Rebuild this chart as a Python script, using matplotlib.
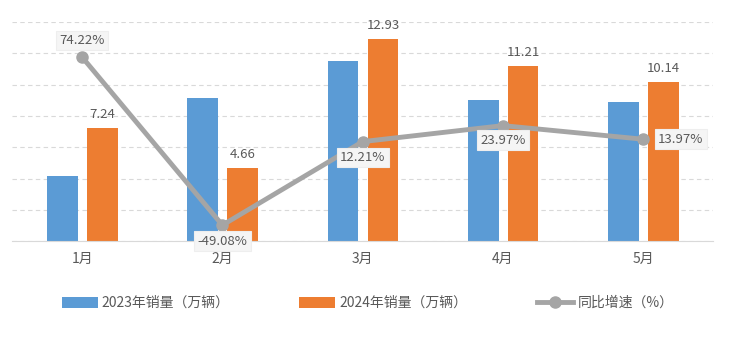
import matplotlib.pyplot as plt
import numpy as np

plt.rcParams['font.family'] = ['Noto Sans CJK SC', 'DejaVu Sans']

months = ['1月', '2月', '3月', '4月', '5月']
sales_2023 = [4.16, 9.15, 11.52, 9.04, 8.90]
sales_2024 = [7.24, 4.66, 12.93, 11.21, 10.14]
growth = [74.22, -49.08, 12.21, 23.97, 13.97]

blue = '#5b9bd5'
orange = '#ed7d31'
gray = '#a5a5a5'
txt = '#595959'

fig = plt.figure(figsize=(7.5, 3.52), dpi=100)
ax = fig.add_axes([0.016, 0.315, 0.935, 0.6225])
x = np.arange(len(months))
w = 0.218
ax.bar(x - 0.14, sales_2023, w, color=blue, label='2023年销量（万辆）', zorder=2)
b2 = ax.bar(x + 0.145, sales_2024, w, color=orange, label='2024年销量（万辆）', zorder=2)
for rect, v in zip(b2, sales_2024):
    ax.annotate(f'{v:.2f}', (rect.get_x() + rect.get_width() / 2, v),
                xytext=(0, 5), textcoords='offset points', ha='center', va='bottom',
                fontsize=9.5, color=txt)

ax.set_xlim(-0.5, 4.5)
ax.set_ylim(0, 14)
ax.set_yticks(np.arange(0, 15, 2))
ax.yaxis.grid(True, linestyle=(0, (4, 3)), color='#d9d9d9', linewidth=0.8, zorder=0)
ax.set_xticks(x)
ax.set_xticklabels(months)
for s in ['top', 'right', 'left']:
    ax.spines[s].set_visible(False)
ax.spines['bottom'].set_color('#d9d9d9')

ax2 = ax.twinx()
ax2.set_ylim(-60.8, 100)
ax2.plot(x, growth, color=gray, linewidth=3.5, marker='o', markersize=8,
         label='同比增速（%）', zorder=3)
ax2.axis('off')

ax.tick_params(axis='y', left=False, right=False, labelleft=False)
ax.tick_params(axis='x', length=0, labelsize=10, labelcolor=txt, pad=7.5)

offsets = [(0, 12), (0, -11.5), (0, -11.5), (0, -10.5), (27, 0)]
for xi, g, off in zip(x, growth, offsets):
    ax2.annotate(f'{g:.2f}%', (xi, g), xytext=off, textcoords='offset points',
                 ha='center', va='center', fontsize=9.5, color=txt, zorder=5,
                 bbox=dict(boxstyle='square,pad=0.25', fc='#f5f5f5', ec='#eeeeee', lw=0.8))

h1, l1 = ax.get_legend_handles_labels()
h2, l2 = ax2.get_legend_handles_labels()
fig.legend(h1 + h2, l1 + l2, loc='center', bbox_to_anchor=(0.49, 0.139), ncol=3,
           frameon=False, fontsize=10, labelcolor=txt, columnspacing=5.0,
           handlelength=2.6, handleheight=0.8, handletextpad=0.3)

fig.savefig('out.png', dpi=100, facecolor='white')
